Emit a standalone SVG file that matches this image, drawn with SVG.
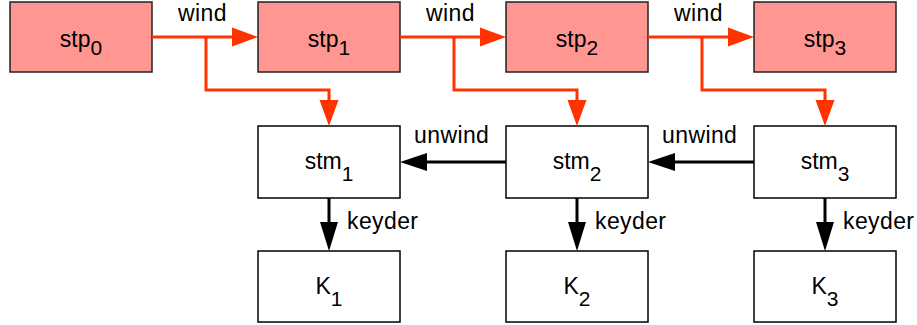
<svg xmlns="http://www.w3.org/2000/svg" width="917" height="325" viewBox="0 0 917 325">
<style>
.stp{fill:#ff9692;stroke:#222;stroke-width:1.5}
.box{fill:#fff;stroke:#000;stroke-width:1.5}
.t{font-family:"Liberation Sans",Arial,sans-serif;font-size:23px;fill:#000;text-anchor:middle}
.sub{font-size:21px}
.lbl{font-family:"Liberation Sans",Arial,sans-serif;font-size:23px;letter-spacing:0.4px;fill:#000}
.red{fill:none;stroke:#ff3300;stroke-width:3}
.blk{fill:none;stroke:#000;stroke-width:3}
.rh{fill:#ff3300}
.bh{fill:#000}
</style>
<g id="stp0"><rect class="stp" x="10" y="2" width="142" height="70"/><text class="t" x="81" y="47">stp<tspan class="sub" dy="8">0</tspan></text></g>
<g id="stp1"><rect class="stp" x="258" y="2" width="142" height="70"/><text class="t" x="329" y="47">stp<tspan class="sub" dy="8">1</tspan></text></g>
<g id="stp2"><rect class="stp" x="506" y="2" width="142" height="70"/><text class="t" x="577" y="47">stp<tspan class="sub" dy="8">2</tspan></text></g>
<g id="stp3"><rect class="stp" x="754" y="2" width="142" height="70"/><text class="t" x="825" y="47">stp<tspan class="sub" dy="8">3</tspan></text></g>
<g id="stm1"><rect class="box" x="258" y="126" width="142" height="72"/><text class="t" x="329" y="169">stm<tspan class="sub" dy="12">1</tspan></text></g>
<g id="stm2"><rect class="box" x="506" y="126" width="142" height="72"/><text class="t" x="577" y="169">stm<tspan class="sub" dy="12">2</tspan></text></g>
<g id="stm3"><rect class="box" x="754" y="126" width="142" height="72"/><text class="t" x="825" y="169">stm<tspan class="sub" dy="12">3</tspan></text></g>
<g id="K1"><rect class="box" x="258" y="251" width="142" height="71"/><text class="t" x="329" y="294">K<tspan class="sub" dy="12">1</tspan></text></g>
<g id="K2"><rect class="box" x="506" y="251" width="142" height="71"/><text class="t" x="577" y="294">K<tspan class="sub" dy="12">2</tspan></text></g>
<g id="K3"><rect class="box" x="754" y="251" width="142" height="71"/><text class="t" x="825" y="294">K<tspan class="sub" dy="12">3</tspan></text></g>
<g id="connectors">
<path class="red" d="M152 37H234M206 37V90H329V102"/>
<polygon class="rh" points="258,37 232,27.5 232,46.5"/>
<polygon class="rh" points="329,126 319.5,100 338.5,100"/>
<path class="red" d="M400 37H482M454 37V90H577V102"/>
<polygon class="rh" points="506,37 480,27.5 480,46.5"/>
<polygon class="rh" points="577,126 567.5,100 586.5,100"/>
<path class="red" d="M648 37H730M702 37V90H825V102"/>
<polygon class="rh" points="754,37 728,27.5 728,46.5"/>
<polygon class="rh" points="825,126 815.5,100 834.5,100"/>
<path class="blk" d="M506 162H425M754 162H673"/>
<polygon class="bh" points="400,162 427,153 427,171"/>
<polygon class="bh" points="648,162 675,153 675,171"/>
<path class="blk" d="M329 198V224M577 198V224M825 198V224"/>
<polygon class="bh" points="329,251 320,222 338,222"/>
<polygon class="bh" points="577,251 568,222 586,222"/>
<polygon class="bh" points="825,251 816,222 834,222"/>
<text class="lbl" x="178" y="21">wind</text>
<text class="lbl" x="426" y="21">wind</text>
<text class="lbl" x="674" y="21">wind</text>
<text class="lbl" x="414" y="143">unwind</text>
<text class="lbl" x="662" y="143">unwind</text>
<text class="lbl" x="347" y="229">keyder</text>
<text class="lbl" x="595" y="229">keyder</text>
<text class="lbl" x="843" y="229">keyder</text>
</g>
</svg>
